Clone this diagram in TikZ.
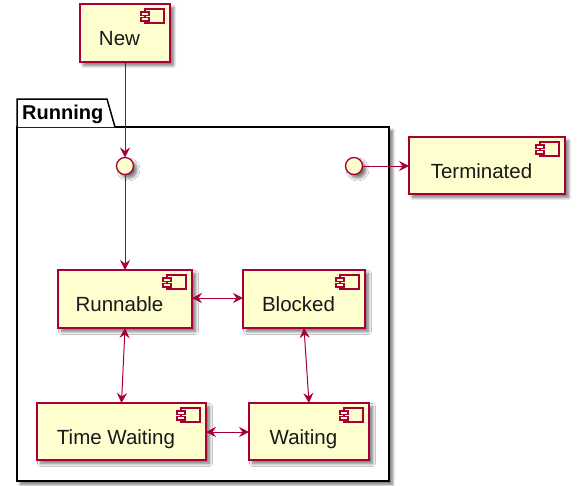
\documentclass[tikz,border=0pt]{standalone}
\usepackage{fontspec}
\setmainfont{Liberation Sans}
\usetikzlibrary{arrows.meta,shadows.blur}
\definecolor{compfill}{HTML}{FEFECE}
\definecolor{compline}{HTML}{A80036}
\tikzset{
  shad/.style={blur shadow={shadow xshift=3.5pt, shadow yshift=-3.5pt, shadow blur steps=8, shadow blur radius=3pt, shadow opacity=55}},
  comp/.style={draw=compline, fill=compfill, line width=1.3pt, rectangle, inner sep=0pt, outer sep=0pt, shad},
  ctext/.style={inner sep=0pt, font=\fontsize{20.5}{24}\selectfont, text=black!90},
  icon/.style={draw=compline, fill=compfill, line width=1.1pt},
  iface/.style={circle, draw=compline, fill=compfill, line width=1.3pt, minimum size=17pt, inner sep=0pt, outer sep=0pt, shad},
  tip/.tip={Stealth[length=10pt,width=10pt,inset=3.5pt]},
  conn/.style={draw=compline, line width=1pt, -tip},
  bconn/.style={draw=compline, line width=1pt, tip-tip},
  pkg/.style={draw=black, line width=1.5pt, fill=white},
}
\newcommand\comp[6]{%
  \node[comp, minimum width={#4-#2}, minimum height={#5-#3}] (#1) at ({(#2+#4)/2},{(#3+#5)/2}) {};
  \node[ctext, anchor=base] (#1-t) at ({(#2+#4)/2-5.5},{#3+41}) {#6};
  \draw[icon] ([xshift=-25pt,yshift=-5pt]#1.north east) rectangle ++(19pt,-14pt);
  \draw[icon] ([xshift=-29pt,yshift=-8pt]#1.north east) rectangle ++(8pt,-3.5pt);
  \draw[icon] ([xshift=-29pt,yshift=-13.5pt]#1.north east) rectangle ++(8pt,-3.5pt);
}
\begin{document}
\begin{tikzpicture}[x=1pt,y=-1pt]
\useasboundingbox (0,0) rectangle (581,485);
% package
\node[pkg, rectangle, minimum width=372pt, minimum height=354pt, inner sep=0pt, outer sep=0pt, shad] (running) at (203,304) {};
\draw[pkg] (17,127) -- (17,99) -- (107,99) -- (115,127);
\node[inner sep=0pt, anchor=base west, font=\fontsize{20}{24}\selectfont\bfseries] (running-t) at (22,119) {Running};
% components
\comp{new}{80}{4}{170}{62}{New}
\comp{term}{409}{137}{565}{194}{Terminated}
\comp{runnable}{58}{270}{192}{328}{Runnable}
\comp{blocked}{243}{270}{365}{328}{Blocked}
\comp{tw}{37}{403}{206}{460}{Time Waiting}
\comp{waiting}{249}{403}{369}{460}{Waiting}
% interfaces
\node[iface] (in) at (125,166) {};
\node[iface] (out) at (354,166) {};
% connectors
\draw[conn] (new.south) -- (in.north);
\draw[conn] (in.south) -- (runnable.north);
\draw[conn] (out.east) -- (out.east -| term.west);
\draw[bconn] (runnable.east |- 0,298) -- (blocked.west |- 0,298);
\draw[bconn] (runnable.south) -- (tw.north);
\draw[bconn] (blocked.south) -- (waiting.north);
\draw[bconn] (tw.east |- 0,432) -- (waiting.west |- 0,432);
\end{tikzpicture}
\end{document}
